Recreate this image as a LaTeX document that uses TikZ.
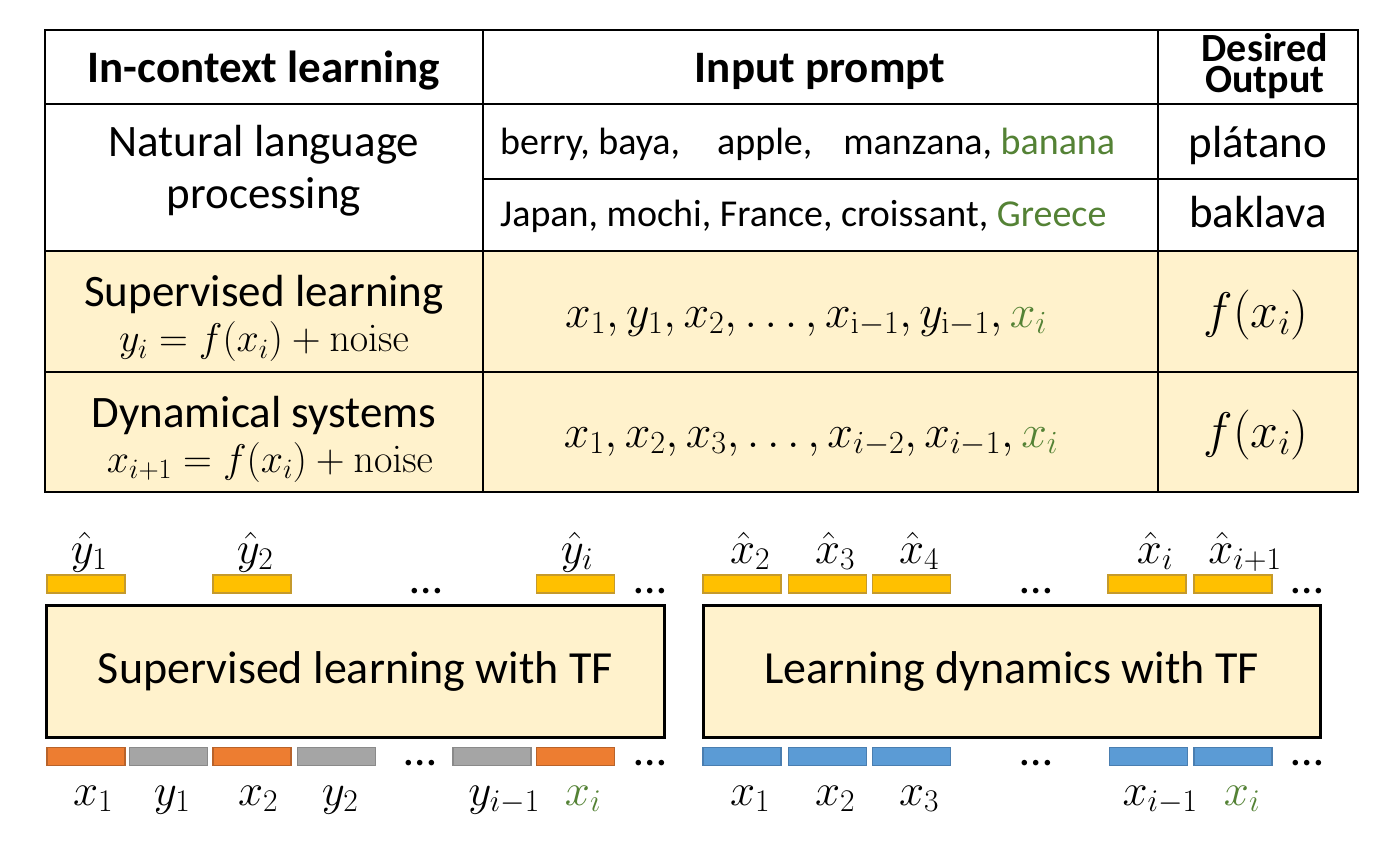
\RequirePackage{fix-cm}
\documentclass[tikz,border=0pt]{standalone}
\usepackage[no-math]{fontspec}
\setmainfont{Carlito}
\definecolor{cellfill}{HTML}{FFF2CC}
\definecolor{gtext}{HTML}{548235}
\definecolor{goldfill}{HTML}{FFC000}
\definecolor{golddraw}{HTML}{C59A2C}
\definecolor{orfill}{HTML}{ED7D31}
\definecolor{ordraw}{HTML}{B8632B}
\definecolor{gyfill}{HTML}{A5A5A5}
\definecolor{gydraw}{HTML}{8A8A8A}
\definecolor{blfill}{HTML}{5B9BD5}
\definecolor{bldraw}{HTML}{4A7EB0}
\tikzset{
  tline/.style={line width=2pt, draw=black},
  hdr/.style={font=\fontsize{45}{52}\selectfont\bfseries, inner sep=0pt, anchor=base},
  hdrsm/.style={font=\fontsize{40}{31}\selectfont\bfseries, inner sep=0pt, align=center},
  txt/.style={font=\fontsize{45}{52}\selectfont, inner sep=0pt, anchor=base},
  ptxt/.style={font=\fontsize{38}{44}\selectfont, inner sep=0pt, anchor=base west},
  fml/.style={font=\fontsize{40}{46}\selectfont, inner sep=0pt, anchor=base},
  bigm/.style={font=\fontsize{46}{52}\selectfont, inner sep=0pt, anchor=base},
  outm/.style={font=\fontsize{50}{56}\selectfont, inner sep=0pt, anchor=base},
  lbl/.style={font=\fontsize{45}{50}\selectfont, inner sep=0pt, anchor=base},
  dotsty/.style={font=\fontsize{46}{50}\selectfont, inner sep=0pt, anchor=base},
  bigbox/.style={draw=black, line width=3pt, fill=cellfill, minimum height=132pt, inner sep=0pt, font=\fontsize{46}{52}\selectfont},
  bar/.style={minimum width=78pt, minimum height=18pt, inner sep=0pt, line width=1.5pt},
  ybar/.style={bar, fill=goldfill, draw=golddraw},
  obar/.style={bar, fill=orfill, draw=ordraw},
  gbar/.style={bar, fill=gyfill, draw=gydraw},
  bbar/.style={bar, fill=blfill, draw=bldraw},
}
\begin{document}
\begin{tikzpicture}[x=1pt,y=-1pt]
\useasboundingbox (0,0) rectangle (1400,842);
\fill[white] (0,0) rectangle (1400,842);
% table
\fill[cellfill] (45,251) rectangle (1358,492);
\draw[tline] (45,30) rectangle (1358,492);
\draw[tline] (45,104) -- (1358,104);
\draw[tline] (483,179) -- (1358,179);
\draw[tline] (45,251) -- (1358,251);
\draw[tline] (45,372) -- (1358,372);
\draw[tline] (483,30) -- (483,492);
\draw[tline] (1158,30) -- (1158,492);
% header
\node[hdr] (h1) at (264,83) {In-context learning};
\node[hdr] (h2) at (820,83) {Input prompt};
\node[hdrsm, anchor=base] (h3) at (1265,93) {Desired\\Output};
% NLP
\node[txt, align=center] (nlp) at (264,209) {Natural language\\processing};
\node[ptxt] (p1) at (500,155) {berry, baya,\hspace{37pt}apple,\hspace{31pt}manzana, \textcolor{gtext}{banana}};
\node[ptxt] (p2) at (500,227) {Japan, mochi, France, croissant, \textcolor{gtext}{Greece}};
\node[txt] (o1) at (1258,158) {plátano};
\node[txt] (o2) at (1258,228) {baklava};
% supervised
\node[txt] (s1) at (264,306) {Supervised learning};
\node[fml] (s2) at (264,352) {$y_i = f(x_i) + \mathrm{noise}$};
\node[bigm] (s3) at (806,327) {$x_1, y_1, x_2, \dots, x_{\mathrm{i}-1}, y_{\mathrm{i}-1}, \textcolor{gtext}{x_i}$};
\node[outm] (s4) at (1256,327) {$f(x_i)$};
% dynamical
\node[txt] (d1) at (264,427) {Dynamical systems};
\node[fml] (d2) at (270,472) {$x_{i+1} = f(x_i) + \mathrm{noise}$};
\node[bigm] (d3) at (811,447) {$x_1, x_2, x_3, \dots, x_{i-2}, x_{i-1}, \textcolor{gtext}{x_i}$};
\node[outm] (d4) at (1256,447) {$f(x_i)$};
% bottom left
\node[bigbox, minimum width=618pt] (tfL) at (355.5,671) {Supervised learning with TF};
\node[bigbox, minimum width=617pt] (tfR) at (1011.5,671) {Learning dynamics with TF};
% top bars left
\node[ybar] (yb1) at (86,584) {};
\node[ybar] (yb2) at (252,584) {};
\node[ybar] (yb3) at (575.5,584) {};
\node[lbl] (yl1) at (89,563) {$\hat y_1$};
\node[lbl] (yl2) at (255,563) {$\hat y_2$};
\node[lbl] (yl3) at (577,563) {$\hat y_i$};
\node[dotsty] (dt1) at (426,593) {\dots};
\node[dotsty] (dt2) at (650,593) {\dots};
% bottom bars left
\node[obar] (b1) at (86,756.5) {};
\node[gbar] (b2) at (168.5,756.5) {};
\node[obar] (b3) at (252,756.5) {};
\node[gbar] (b4) at (336.5,756.5) {};
\node[gbar] (b5) at (492,756.5) {};
\node[obar] (b6) at (575.5,756.5) {};
\node[lbl] (bl1) at (93,805) {$x_1$};
\node[lbl] (bl2) at (172,805) {$y_1$};
\node[lbl] (bl3) at (258,805) {$x_2$};
\node[lbl] (bl4) at (340,805) {$y_2$};
\node[lbl] (bl5) at (504,805) {$y_{i-1}$};
\node[lbl] (bl6) at (583,805) {\textcolor{gtext}{$x_i$}};
\node[dotsty] (dt3) at (420,765) {\dots};
\node[dotsty] (dt4) at (650,765) {\dots};
% top bars right
\node[ybar] (xb1) at (742,584) {};
\node[ybar] (xb2) at (827.5,584) {};
\node[ybar] (xb3) at (911.5,584) {};
\node[ybar] (xb4) at (1147,584) {};
\node[ybar] (xb5) at (1233,584) {};
\node[lbl] (xl1) at (750,563) {$\hat x_2$};
\node[lbl] (xl2) at (835,563) {$\hat x_3$};
\node[lbl] (xl3) at (919,563) {$\hat x_4$};
\node[lbl] (xl4) at (1155,563) {$\hat x_i$};
\node[lbl] (xl5) at (1245,563) {$\hat x_{i+1}$};
\node[dotsty] (dt5) at (1036,593) {\dots};
\node[dotsty] (dt6) at (1307,593) {\dots};
% bottom bars right
\node[bbar] (c1) at (742,756.5) {};
\node[bbar] (c2) at (827.5,756.5) {};
\node[bbar] (c3) at (911.5,756.5) {};
\node[bbar] (c4) at (1148.5,756.5) {};
\node[bbar] (c5) at (1233,756.5) {};
\node[lbl] (cl1) at (750,805) {$x_1$};
\node[lbl] (cl2) at (835,805) {$x_2$};
\node[lbl] (cl3) at (919,805) {$x_3$};
\node[lbl] (cl4) at (1160,805) {$x_{i-1}$};
\node[lbl] (cl5) at (1242,805) {\textcolor{gtext}{$x_i$}};
\node[dotsty] (dt7) at (1036,765) {\dots};
\node[dotsty] (dt8) at (1307,765) {\dots};
\end{tikzpicture}
\end{document}
